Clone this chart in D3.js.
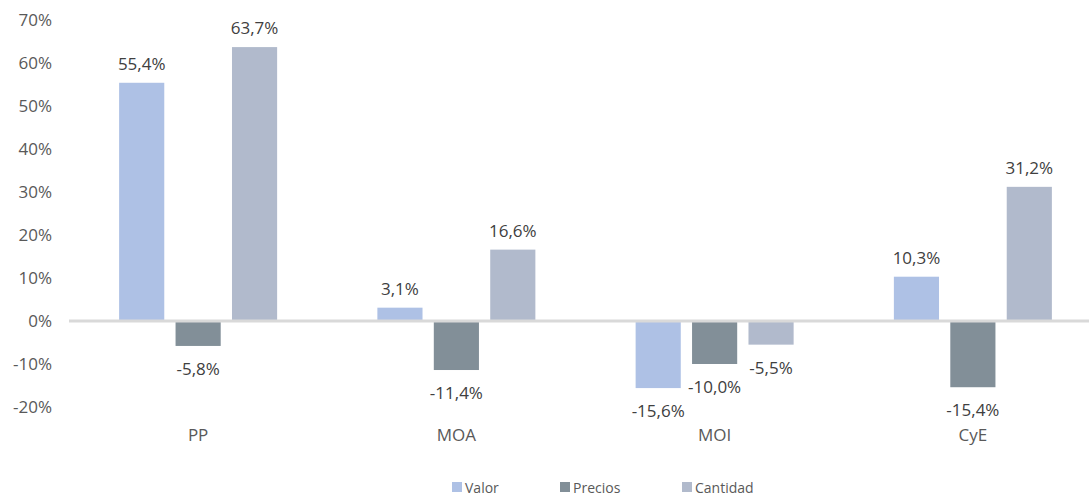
<!DOCTYPE html>
<html>
<head>
<meta charset="utf-8">
<script src="https://cdn.jsdelivr.net/npm/d3@7"></script>
<style>
  body { margin: 0; background: #fff; }
  text { font-family: "Open Sans", "Noto Sans", sans-serif; }
</style>
</head>
<body>
<div id="chart"></div>
<script>
var categories = ["PP", "MOA", "MOI", "CyE"];
var seriesNames = ["Valor", "Precios", "Cantidad"];
var valor = [55.4, 3.1, -15.6, 10.3];
var precios = [-5.8, -11.4, -10.0, -15.4];
var cantidad = [63.7, 16.6, -5.5, 31.2];
var yTicks = [-20, -10, 0, 10, 20, 30, 40, 50, 60, 70];

var colors = ["#aec1e5", "#828f98", "#b1bacc"];
var series = [valor, precios, cantidad];

var W = 1089, H = 496;

var svg = d3.select("#chart").append("svg")
    .attr("width", W)
    .attr("height", H);

var x = d3.scaleBand()
    .domain(categories)
    .range([69, 1102]);

// bars inside one category, offset from its centre
var xSub = d3.scaleBand()
    .domain(seriesNames)
    .range([-79, 79])
    .paddingInner(0.2);

var y = d3.scaleLinear()
    .domain([-20, 70])
    .range([407, 20]);

// y-axis labels
var yAxis = d3.axisLeft(y)
    .tickValues(yTicks)
    .tickSize(0)
    .tickPadding(0)
    .tickFormat(function(d) { return d + "%"; });

var gy = svg.append("g")
    .attr("transform", "translate(52,0)")
    .call(yAxis);
gy.select(".domain").remove();
gy.selectAll("text")
    .attr("fill", "#595959")
    .style("font-size", "17px");

function barX(i, s) {
  return x(categories[i]) + x.bandwidth() / 2 + xSub(seriesNames[s]);
}

// bars
series.forEach(function(vals, s) {
  var g = svg.append("g");
  g.selectAll("rect")
    .data(vals)
    .enter()
    .append("rect")
      .attr("x", function(d, i) { return barX(i, s); })
      .attr("y", function(d) { return y(Math.max(0, d)); })
      .attr("width", xSub.bandwidth())
      .attr("height", function(d) { return Math.abs(y(d) - y(0)); })
      .attr("fill", colors[s]);

  g.selectAll("text")
    .data(vals)
    .enter()
    .append("text")
      .attr("x", function(d, i) { return barX(i, s) + xSub.bandwidth() / 2; })
      .attr("y", function(d) { return d >= 0 ? y(d) - 13 : y(d) + 29; })
      .attr("text-anchor", "middle")
      .attr("fill", "#404040")
      .style("font-size", "17px")
      .text(function(d) { return d.toFixed(1).replace(".", ",") + "%"; });
});

// zero line
svg.append("line")
    .attr("x1", 69)
    .attr("x2", W)
    .attr("y1", y(0))
    .attr("y2", y(0))
    .attr("stroke", "#d9d9d9")
    .attr("stroke-width", 3);

// category labels
svg.append("g").selectAll("text")
    .data(categories)
    .enter()
    .append("text")
      .attr("x", function(d) { return x(d) + x.bandwidth() / 2; })
      .attr("y", 441)
      .attr("text-anchor", "middle")
      .attr("fill", "#595959")
      .style("font-size", "17px")
      .text(function(d) { return d; });

// legend
var legendX = [452, 560, 682];
var legend = svg.append("g").selectAll("g")
    .data(seriesNames)
    .enter()
    .append("g")
      .attr("transform", function(d, i) { return "translate(" + legendX[i] + ",482)"; });

legend.append("rect")
    .attr("width", 10)
    .attr("height", 10)
    .attr("fill", function(d, i) { return colors[i]; });

legend.append("text")
    .attr("x", 13)
    .attr("y", 11)
    .attr("fill", "#595959")
    .style("font-size", "14px")
    .text(function(d) { return d; });
</script>
</body>
</html>
